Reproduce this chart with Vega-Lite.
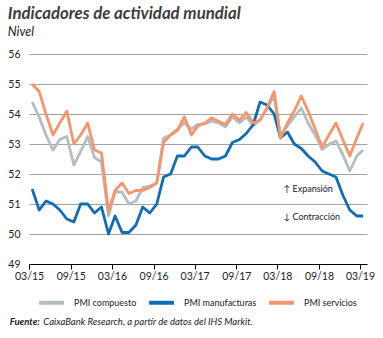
{
  "$schema": "https://vega.github.io/schema/vega-lite/v6.json",
  "width": 338,
  "height": 210,
  "autosize": {"type": "none"},
  "padding": {"left": 29, "top": 54, "right": 16, "bottom": 74},
  "background": "white",
  "config": {
    "view": {"stroke": null},
    "font": "Lato",
    "axisY": {
      "title": null,
      "tickCount": 8,
      "values": [49, 50, 51, 52, 53, 54, 55, 56],
      "labelOverlap": false,
      "grid": true,
      "gridColor": "#a3a3a3",
      "gridWidth": 1,
      "domain": false,
      "ticks": false,
      "labelPadding": 9,
      "labelFont": "Lato",
      "labelFontSize": 10.5,
      "labelColor": "#222222"
    }
  },
  "title": {
    "text": "Indicadores de actividad mundial",
    "subtitle": "Nivel",
    "anchor": "start",
    "frame": "bounds",
    "font": "Lato",
    "fontSize": 16.8,
    "fontStyle": "italic",
    "fontWeight": "bold",
    "color": "#3d3d3d",
    "subtitleFont": "Lato",
    "subtitleFontSize": 12.5,
    "subtitleFontStyle": "italic",
    "subtitleColor": "#222222",
    "subtitlePadding": 3,
    "offset": 11
  },
  "datasets": {
    "pmi": [
      {"fecha": "2015-03-15", "PMI compuesto": 54.4, "PMI manufacturas": 51.5, "PMI servicios": 55.0},
      {"fecha": "2015-04-15", "PMI compuesto": 53.9, "PMI manufacturas": 50.8, "PMI servicios": 54.75},
      {"fecha": "2015-05-15", "PMI compuesto": 53.3, "PMI manufacturas": 51.1, "PMI servicios": 54.0},
      {"fecha": "2015-06-15", "PMI compuesto": 52.8, "PMI manufacturas": 51.0, "PMI servicios": 53.3},
      {"fecha": "2015-07-15", "PMI compuesto": 53.15, "PMI manufacturas": 50.8, "PMI servicios": 53.7},
      {"fecha": "2015-08-15", "PMI compuesto": 53.25, "PMI manufacturas": 50.5, "PMI servicios": 54.1},
      {"fecha": "2015-09-15", "PMI compuesto": 52.3, "PMI manufacturas": 50.4, "PMI servicios": 53.0},
      {"fecha": "2015-10-15", "PMI compuesto": 52.75, "PMI manufacturas": 51.0, "PMI servicios": 53.3},
      {"fecha": "2015-11-15", "PMI compuesto": 53.25, "PMI manufacturas": 51.0, "PMI servicios": 53.7},
      {"fecha": "2015-12-15", "PMI compuesto": 52.55, "PMI manufacturas": 50.7, "PMI servicios": 52.8},
      {"fecha": "2016-01-15", "PMI compuesto": 52.4, "PMI manufacturas": 50.9, "PMI servicios": 52.7},
      {"fecha": "2016-02-15", "PMI compuesto": 50.6, "PMI manufacturas": 50.0, "PMI servicios": 50.75},
      {"fecha": "2016-03-15", "PMI compuesto": 51.4, "PMI manufacturas": 50.6, "PMI servicios": 51.45},
      {"fecha": "2016-04-15", "PMI compuesto": 51.4, "PMI manufacturas": 50.05, "PMI servicios": 51.7},
      {"fecha": "2016-05-15", "PMI compuesto": 51.0, "PMI manufacturas": 50.05, "PMI servicios": 51.35},
      {"fecha": "2016-06-15", "PMI compuesto": 51.1, "PMI manufacturas": 50.3, "PMI servicios": 51.45},
      {"fecha": "2016-07-15", "PMI compuesto": 51.55, "PMI manufacturas": 50.9, "PMI servicios": 51.45},
      {"fecha": "2016-08-15", "PMI compuesto": 51.6, "PMI manufacturas": 50.7, "PMI servicios": 51.55},
      {"fecha": "2016-09-15", "PMI compuesto": 51.7, "PMI manufacturas": 51.0, "PMI servicios": 51.7},
      {"fecha": "2016-10-15", "PMI compuesto": 53.2, "PMI manufacturas": 51.9, "PMI servicios": 53.05},
      {"fecha": "2016-11-15", "PMI compuesto": 53.3, "PMI manufacturas": 52.0, "PMI servicios": 53.3},
      {"fecha": "2016-12-15", "PMI compuesto": 53.5, "PMI manufacturas": 52.6, "PMI servicios": 53.45},
      {"fecha": "2017-01-15", "PMI compuesto": 53.7, "PMI manufacturas": 52.6, "PMI servicios": 53.9},
      {"fecha": "2017-02-15", "PMI compuesto": 53.5, "PMI manufacturas": 52.9, "PMI servicios": 53.3},
      {"fecha": "2017-03-15", "PMI compuesto": 53.65, "PMI manufacturas": 52.9, "PMI servicios": 53.6},
      {"fecha": "2017-04-15", "PMI compuesto": 53.67, "PMI manufacturas": 52.6, "PMI servicios": 53.7},
      {"fecha": "2017-05-15", "PMI compuesto": 53.76, "PMI manufacturas": 52.5, "PMI servicios": 53.87},
      {"fecha": "2017-06-15", "PMI compuesto": 53.7, "PMI manufacturas": 52.5, "PMI servicios": 53.76},
      {"fecha": "2017-07-15", "PMI compuesto": 53.57, "PMI manufacturas": 52.6, "PMI servicios": 53.65},
      {"fecha": "2017-08-15", "PMI compuesto": 53.9, "PMI manufacturas": 53.05, "PMI servicios": 54.0},
      {"fecha": "2017-09-15", "PMI compuesto": 53.7, "PMI manufacturas": 53.15, "PMI servicios": 53.8},
      {"fecha": "2017-10-15", "PMI compuesto": 53.9, "PMI manufacturas": 53.35, "PMI servicios": 54.05},
      {"fecha": "2017-11-15", "PMI compuesto": 53.6, "PMI manufacturas": 53.65, "PMI servicios": 53.7},
      {"fecha": "2017-12-15", "PMI compuesto": 53.8, "PMI manufacturas": 54.4, "PMI servicios": 53.8},
      {"fecha": "2018-01-15", "PMI compuesto": 54.2, "PMI manufacturas": 54.3, "PMI servicios": 54.2},
      {"fecha": "2018-02-15", "PMI compuesto": 54.6, "PMI manufacturas": 54.0, "PMI servicios": 54.75},
      {"fecha": "2018-03-15", "PMI compuesto": 53.3, "PMI manufacturas": 53.2, "PMI servicios": 53.2},
      {"fecha": "2018-04-15", "PMI compuesto": 53.6, "PMI manufacturas": 53.4, "PMI servicios": 53.7},
      {"fecha": "2018-05-15", "PMI compuesto": 53.9, "PMI manufacturas": 53.0, "PMI servicios": 54.1},
      {"fecha": "2018-06-15", "PMI compuesto": 54.2, "PMI manufacturas": 52.85, "PMI servicios": 54.6},
      {"fecha": "2018-07-15", "PMI compuesto": 53.7, "PMI manufacturas": 52.6, "PMI servicios": 54.1},
      {"fecha": "2018-08-15", "PMI compuesto": 53.3, "PMI manufacturas": 52.4, "PMI servicios": 53.5},
      {"fecha": "2018-09-15", "PMI compuesto": 52.82, "PMI manufacturas": 52.1, "PMI servicios": 52.9},
      {"fecha": "2018-10-15", "PMI compuesto": 52.98, "PMI manufacturas": 52.0, "PMI servicios": 53.3},
      {"fecha": "2018-11-15", "PMI compuesto": 53.1, "PMI manufacturas": 51.9, "PMI servicios": 53.7},
      {"fecha": "2018-12-15", "PMI compuesto": 52.65, "PMI manufacturas": 51.3, "PMI servicios": 53.15},
      {"fecha": "2019-01-15", "PMI compuesto": 52.1, "PMI manufacturas": 50.8, "PMI servicios": 52.6},
      {"fecha": "2019-02-15", "PMI compuesto": 52.6, "PMI manufacturas": 50.6, "PMI servicios": 53.2},
      {"fecha": "2019-03-15", "PMI compuesto": 52.8, "PMI manufacturas": 50.6, "PMI servicios": 53.7}
    ],
    "notas": [
      {"fecha": "2018-03-28", "valor": 51.5, "texto": "↑ Expansión"},
      {"fecha": "2018-03-28", "valor": 50.56, "texto": "↓ Contracción"}
    ],
    "fuente1": [{"fecha": "2014-12-06", "valor": 46.96, "texto": "Fuente:"}],
    "fuente2": [{"fecha": "2015-05-03", "valor": 46.96, "texto": "CaixaBank Research, a partir de datos del IHS Markit."}]
  },
  "layer": [
    {
      "mark": {"type": "rule", "color": "#e8542a", "strokeWidth": 1.6},
      "encoding": {
        "y": {"datum": 50, "type": "quantitative", "scale": {"domain": [49, 56], "nice": false, "zero": false}}
      }
    },
    {
      "data": {"name": "pmi"},
      "transform": [{"fold": ["PMI compuesto", "PMI manufacturas", "PMI servicios"], "as": ["serie", "valor"]}],
      "mark": {"type": "line", "strokeWidth": 2.8, "strokeJoin": "round"},
      "encoding": {
        "x": {
          "field": "fecha",
          "type": "temporal",
          "scale": {"type": "utc", "domain": [{"year": 2015, "month": 3, "date": 1, "utc": true}, {"year": 2019, "month": 4, "date": 1, "utc": true}]},
          "axis": {
            "title": null,
            "grid": false,
            "values": [
              {"year": 2015, "month": 3, "date": 1, "utc": true},
              {"year": 2015, "month": 9, "date": 1, "utc": true},
              {"year": 2016, "month": 3, "date": 1, "utc": true},
              {"year": 2016, "month": 9, "date": 1, "utc": true},
              {"year": 2017, "month": 3, "date": 1, "utc": true},
              {"year": 2017, "month": 9, "date": 1, "utc": true},
              {"year": 2018, "month": 3, "date": 1, "utc": true},
              {"year": 2018, "month": 9, "date": 1, "utc": true},
              {"year": 2019, "month": 3, "date": 1, "utc": true}
            ],
            "format": "%m/%y",
            "labelOverlap": false,
            "domainColor": "#000000",
            "domainWidth": 1,
            "tickColor": "#000000",
            "tickSize": 5,
            "labelFont": "Lato",
            "labelFontSize": 10.5,
            "labelColor": "#222222",
            "labelPadding": 2,
            "labelFlush": false
          }
        },
        "y": {
          "field": "valor",
          "type": "quantitative",
          "scale": {"domain": [49, 56], "nice": false, "zero": false},
          "axis": {"values": [49, 50, 51, 52, 53, 54, 55, 56], "tickCount": 8, "labelOverlap": false, "title": null}
        },
        "color": {
          "field": "serie",
          "type": "nominal",
          "scale": {"domain": ["PMI compuesto", "PMI manufacturas", "PMI servicios"], "range": ["#b4bec1", "#0f6cb6", "#f4956c"]},
          "legend": {
            "orient": "none",
            "legendX": 8,
            "legendY": 234,
            "direction": "horizontal",
            "title": null,
            "symbolType": "stroke",
            "symbolStrokeWidth": 4,
            "symbolSize": 620,
            "labelFont": "Lato",
            "labelFontSize": 9,
            "labelColor": "#222222",
            "labelOffset": 8,
            "columnPadding": 4
          }
        }
      }
    },
    {
      "data": {"name": "notas"},
      "mark": {"type": "text", "align": "left", "baseline": "middle", "font": "Lato", "fontSize": 9, "color": "#222222"},
      "encoding": {
        "x": {"field": "fecha", "type": "temporal"},
        "y": {"field": "valor", "type": "quantitative", "axis": {"values": [49, 50, 51, 52, 53, 54, 55, 56], "tickCount": 8, "labelOverlap": false, "title": null}},
        "text": {"field": "texto"}
      }
    },
    {
      "data": {"name": "fuente1"},
      "mark": {"type": "text", "align": "left", "baseline": "alphabetic", "font": "Lato", "fontSize": 9.5, "fontStyle": "italic", "fontWeight": "bold", "color": "#222222"},
      "encoding": {
        "x": {"field": "fecha", "type": "temporal"},
        "y": {"field": "valor", "type": "quantitative", "axis": {"values": [49, 50, 51, 52, 53, 54, 55, 56], "tickCount": 8, "labelOverlap": false, "title": null}},
        "text": {"field": "texto"}
      }
    },
    {
      "data": {"name": "fuente2"},
      "mark": {"type": "text", "align": "left", "baseline": "alphabetic", "font": "Lato", "fontSize": 9.5, "fontStyle": "italic", "color": "#222222"},
      "encoding": {
        "x": {"field": "fecha", "type": "temporal"},
        "y": {"field": "valor", "type": "quantitative", "axis": {"values": [49, 50, 51, 52, 53, 54, 55, 56], "tickCount": 8, "labelOverlap": false, "title": null}},
        "text": {"field": "texto"}
      }
    }
  ]
}
